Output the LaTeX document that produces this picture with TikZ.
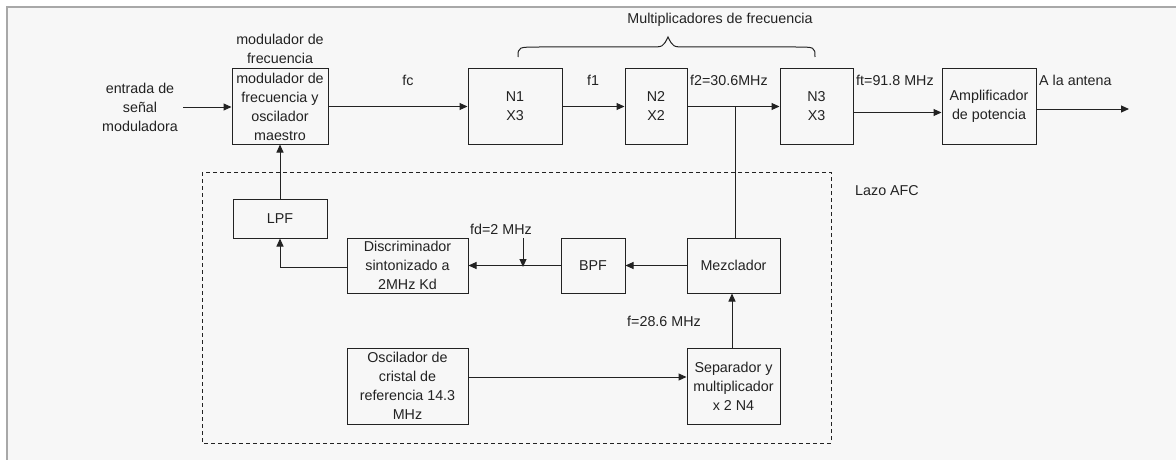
\documentclass[tikz,border=0pt]{standalone}
\usepackage{fontspec}
\setmainfont{Liberation Sans}
\usetikzlibrary{arrows.meta}
\definecolor{pagebg}{HTML}{F7F7F7}
\definecolor{framegray}{HTML}{A8A8A8}
\definecolor{ink}{HTML}{222222}
\begin{document}
\begin{tikzpicture}[x=1pt,y=-1pt,
  font=\fontsize{14.3}{19}\selectfont,
  block/.style={draw=ink,line width=1pt,rectangle,align=center,inner sep=1pt,
    text=ink},
  lbl/.style={align=center,inner sep=0pt,text=ink},
  flow/.style={draw=ink,line width=1pt,-{Triangle[length=8pt,width=7pt]}},
  wire/.style={draw=ink,line width=1pt},
  loopbox/.style={draw=ink,line width=0.8pt,dash pattern=on 4pt off 3pt}]
% page area
\useasboundingbox (0,0) rectangle (1176,460);
\fill[white] (0,0) rectangle (1176,460);
\fill[pagebg] (7,7) rectangle (1176,460);
\draw[framegray,line width=2pt] (7,460) -- (7,7) -- (1176,7);

% AFC loop outline
\draw[loopbox] (202,172) rectangle (831,443);
\node[lbl] (lazo) at (887,191) {Lazo AFC};

% transmitter chain
\node[block,minimum width=96pt,minimum height=75pt] (mod) at (280,106.5)
  {modulador de\\frecuencia y\\oscilador\\maestro};
\node[block,minimum width=94pt,minimum height=75pt] (n1) at (515,106.5) {N1\\X3};
\node[block,minimum width=62pt,minimum height=75pt] (n2) at (656,106.5) {N2\\X2};
\node[block,minimum width=73pt,minimum height=75pt] (n3) at (816.5,106.5) {N3\\X3};
\node[block,minimum width=94pt,minimum height=75pt] (amp) at (989,106.5)
  {Amplificador\\de potencia};

% AFC loop blocks
\node[block,minimum width=94pt,minimum height=39pt] (lpf) at (280,218.5) {LPF};
\node[block,minimum width=121pt,minimum height=55pt] (disc) at (407.5,265.5)
  {Discriminador\\sintonizado a\\2MHz Kd};
\node[block,minimum width=64pt,minimum height=55pt] (bpf) at (593,265.5) {BPF};
\node[block,minimum width=93pt,minimum height=55pt] (mez) at (733.5,265.5) {Mezclador};
\node[block,minimum width=121pt,minimum height=76pt] (osc) at (407.5,386)
  {Oscilador de\\cristal de\\referencia 14.3\\MHz};
\node[block,minimum width=93pt,minimum height=76pt] (sep) at (733.5,386)
  {Separador y\\multiplicador\\x 2 N4};

% labels
\node[lbl] (modtitle) at (280,49) {modulador de\\frecuencia};
\node[lbl] (entrada) at (140,107) {entrada de\\señal\\moduladora};
\node[lbl] (fc) at (408,80) {fc};
\node[lbl] (f1) at (593,80) {f1};
\node[lbl,anchor=west] (f2) at (690,80) {f2=30.6MHz};
\node[lbl,anchor=west] (ft) at (856,80) {ft=91.8 MHz};
\node[lbl,anchor=west] (ant) at (1039,80) {A la antena};
\node[lbl] (mult) at (720,20) {Multiplicadores de frecuencia};
\node[lbl] (fd) at (501,229) {fd=2 MHz};
\node[lbl] (fref) at (664,321) {f=28.6 MHz};

% brace over the multiplier stages
\draw[ink,line width=1pt] (518,57) .. controls (518,47) .. (540,47) -- (650,47)
  .. controls (663,47) .. (668,37) .. controls (673,47) .. (686,47) -- (795,47)
  .. controls (815,47) .. (815,57);

% free ends and branch points
\coordinate (in) at (183,107);
\coordinate (out) at (1129,109);
\coordinate (jn) at (735,107);
\coordinate (fdtop) at (523,238);
\coordinate (fdbot) at (523,267);

% forward path
\draw[flow] (in) -- (in -| mod.west);
\draw[flow] (mod.east) -- (n1.west);
\draw[flow] (n1.east) -- (n2.west);
\draw[flow] (n2.east) -- (n3.west);
\draw[flow] ([yshift=-6pt]n3.east) -- ([yshift=-6pt]amp.west);
\draw[flow] (out -| amp.east) -- (out);

% feedback path
\draw[wire] (jn) -- (jn |- mez.north);
\draw[flow] (mez.west) -- (bpf.east);
\draw[flow] (bpf.west) -- (disc.east);
\draw[flow] (fdtop) -- (fdbot);
\draw[flow] ([yshift=-2pt]disc.west) -| (lpf.south);
\draw[flow] (lpf.north) -- (mod.south);
\draw[flow] ([xshift=-1.5pt]sep.north) -- ([xshift=-1.5pt]mez.south);
\draw[flow] ([yshift=9pt]osc.east) -- ([yshift=9pt]sep.west);
\end{tikzpicture}
\end{document}
